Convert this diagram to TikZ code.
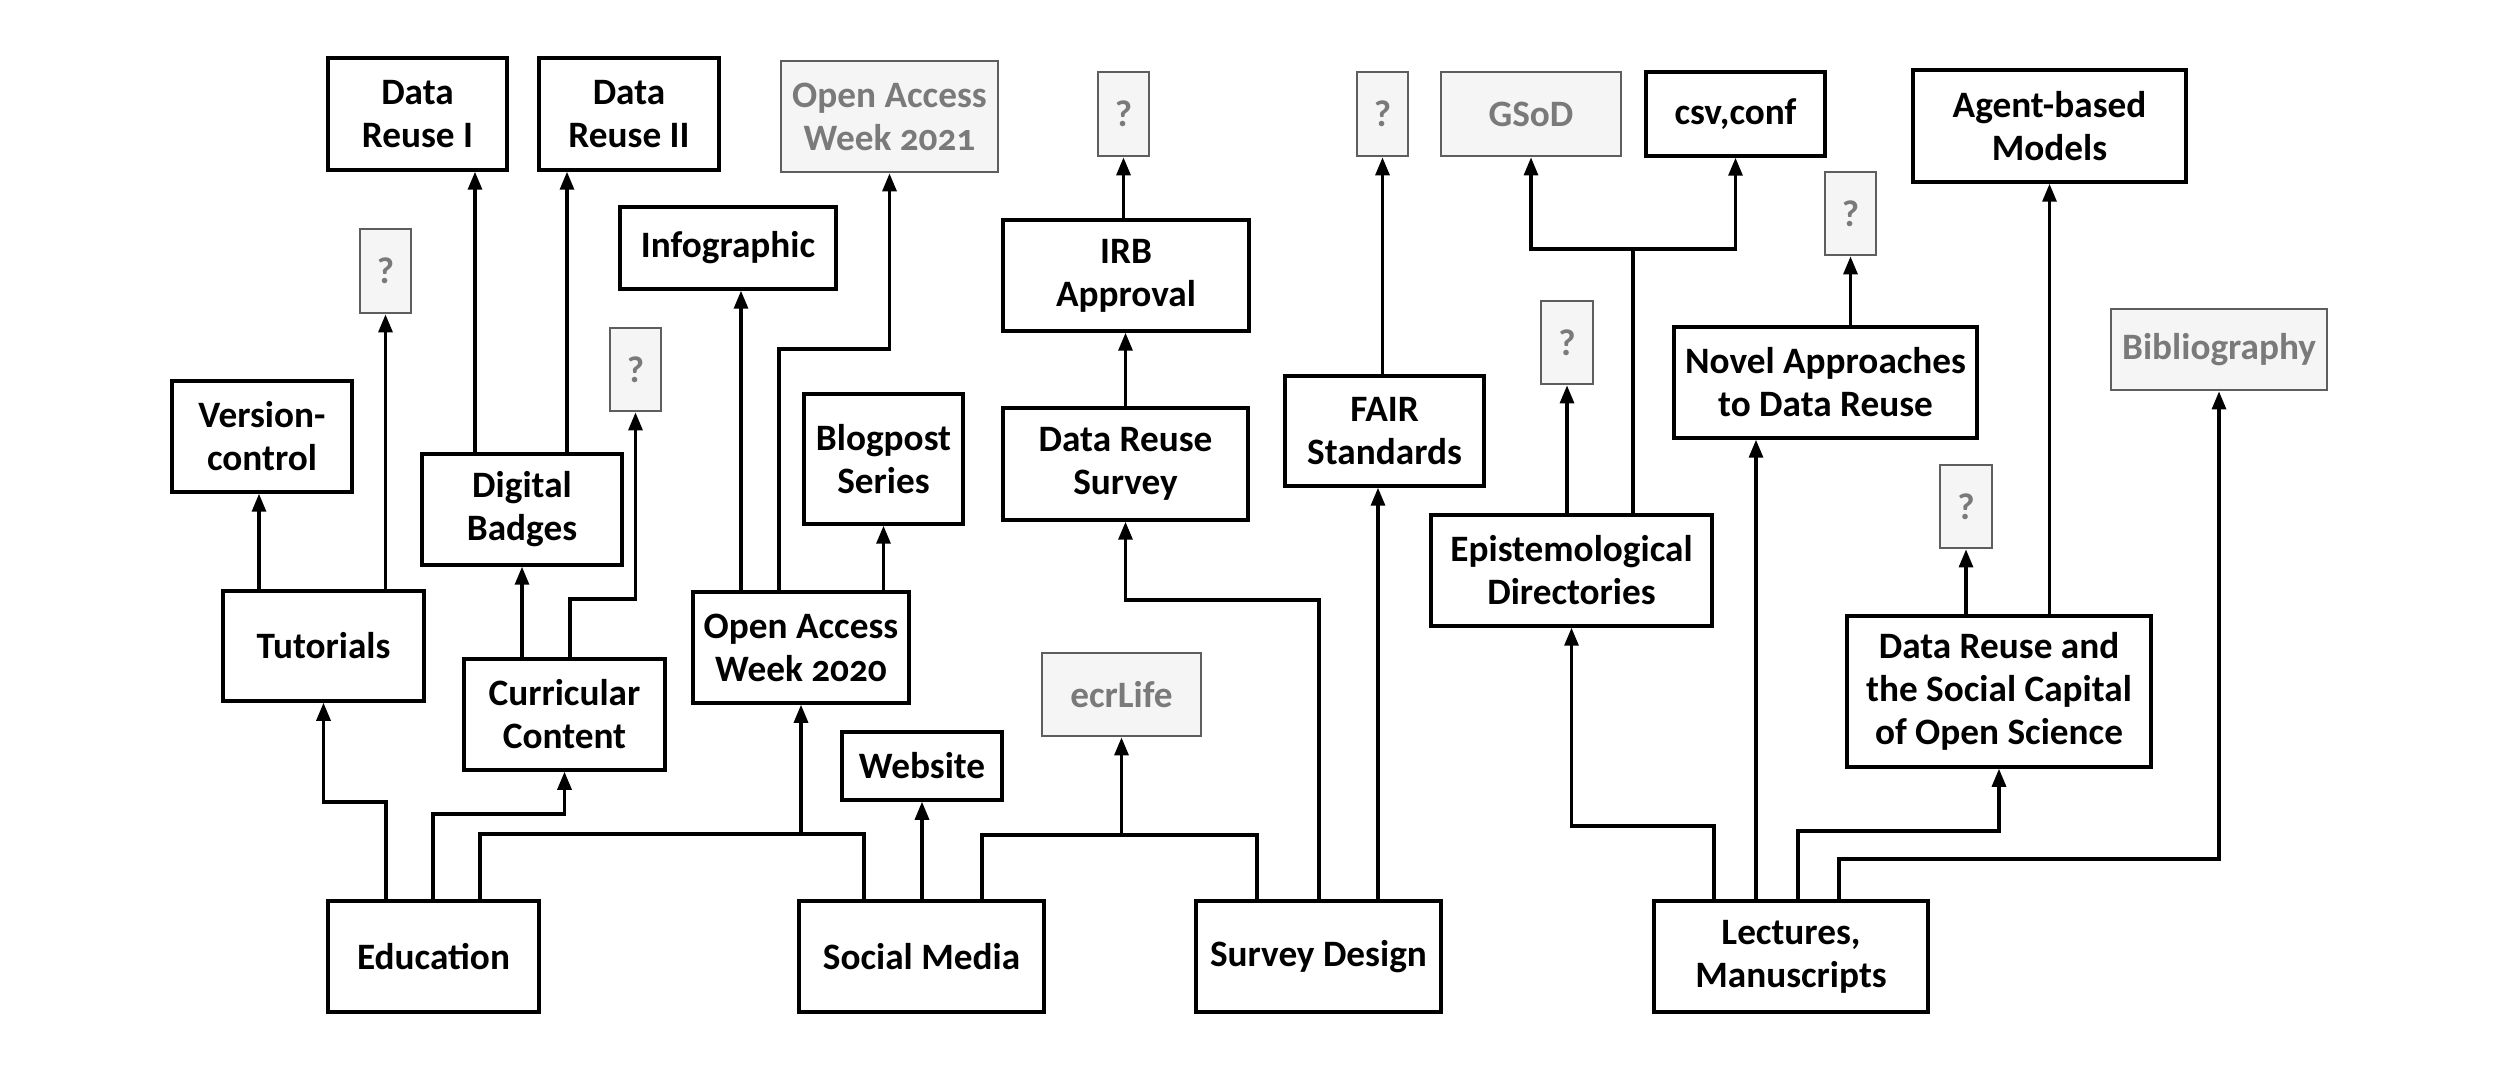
\documentclass[tikz,border=0pt]{standalone}
\usepackage{fontspec}
\setmainfont{Carlito}[Numbers=OldStyle]
\usetikzlibrary{arrows.meta}
\definecolor{gfill}{HTML}{F5F5F5}
\definecolor{gline}{HTML}{5E5E5E}
\definecolor{gtext}{HTML}{7A7A7A}
\begin{document}
\begin{tikzpicture}[x=0.1mm,y=-0.1mm,
  box/.style={draw, line width=1.0pt, fill=white, inner sep=0pt, align=center,
    font=\bfseries\fontsize{10.6}{12.2}\selectfont},
  gbox/.style={box, draw=gline, fill=gfill, text=gtext, line width=0.8pt},
  arr/.style={line width=0.9pt, -{Triangle[length=1.8mm,width=1.4mm]}},
  ln/.style={line width=0.9pt}]
\useasboundingbox (0,0) rectangle (2500,1071);

% top row
\node[box, minimum width=17.9mm, minimum height=11.2mm] (dr1) at (417.5,114) {Data\\Reuse I};
\node[box, minimum width=18.0mm, minimum height=11.2mm] (dr2) at (629,114) {Data\\Reuse II};
\node[gbox, minimum width=21.7mm, minimum height=11.1mm] (oaw21) at (889.5,116.5) {Open Access\\Week 2021};
\node[gbox, minimum width=5.1mm, minimum height=8.4mm] (q1) at (1123.5,114) {?};
\node[gbox, minimum width=5.1mm, minimum height=8.4mm] (q2) at (1382.5,114) {?};
\node[gbox, minimum width=18.0mm, minimum height=8.4mm] (gsod) at (1531,114) {GSoD};
\node[box, minimum width=17.9mm, minimum height=8.4mm] (csv) at (1735.5,114) {csv,conf};
\node[box, minimum width=27.3mm, minimum height=11.2mm] (agent) at (2049.5,126) {Agent-based\\Models};

% second tier
\node[gbox, minimum width=5.1mm, minimum height=8.4mm] (q3) at (385.5,271) {?};
\node[box, minimum width=21.6mm, minimum height=8.2mm] (info) at (728,248) {Infographic};
\node[box, minimum width=24.6mm, minimum height=11.1mm] (irb) at (1126,275.5) {IRB\\Approval};
\node[gbox, minimum width=5.1mm, minimum height=8.3mm] (q4) at (635.5,369.5) {?};
\node[gbox, minimum width=5.2mm, minimum height=8.3mm] (q5) at (1567,342.5) {?};
\node[gbox, minimum width=5.1mm, minimum height=8.3mm] (q6) at (1850.5,213.5) {?};
\node[box, minimum width=30.3mm, minimum height=11.1mm] (nov) at (1825.5,382.5) {Novel Approaches\\to Data Reuse};
\node[gbox, minimum width=21.6mm, minimum height=8.1mm] (bib) at (2219,349.5) {Bibliography};

% third tier
\node[box, minimum width=18.0mm, minimum height=11.1mm] (ver) at (262,436.5) {Version-\\control};
\node[box, minimum width=20.0mm, minimum height=11.1mm] (bad) at (522,509.5) {Digital\\Badges};
\node[box, minimum width=15.9mm, minimum height=13.0mm] (blog) at (883.5,459) {Blogpost\\Series};
\node[box, minimum width=24.5mm, minimum height=11.2mm] (drsv) at (1125.5,464) {Data Reuse\\Survey};
\node[box, minimum width=19.9mm, minimum height=11.0mm] (fair) at (1384.5,431) {FAIR\\Standards};
\node[box, minimum width=28.1mm, minimum height=11.1mm] (epi) at (1571.5,570.5) {Epistemological\\Directories};
\node[gbox, minimum width=5.2mm, minimum height=8.3mm] (q7) at (1966,506.5) {?};

% fourth tier
\node[box, minimum width=20.1mm, minimum height=11.0mm] (tut) at (323.5,646) {Tutorials};
\node[box, minimum width=20.1mm, minimum height=11.1mm] (cur) at (564.5,714.5) {Curricular\\Content};
\node[box, minimum width=21.6mm, minimum height=11.1mm] (oaw20) at (801,647.5) {Open Access\\Week 2020};
\node[box, minimum width=30.4mm, minimum height=15.1mm] (drs) at (1999,691.5) {Data Reuse and\\the Social Capital\\of Open Science};
\node[gbox, minimum width=15.9mm, minimum height=8.3mm] (ecr) at (1121.5,694.5) {ecrLife};
\node[box, minimum width=16.0mm, minimum height=6.8mm] (web) at (922,766) {Website};

% roots
\node[box, minimum width=21.1mm, minimum height=11.1mm] (edu) at (433.5,956.5) {Education};
\node[box, minimum width=24.5mm, minimum height=11.1mm] (sm) at (921.5,956.5) {Social Media};
\node[box, minimum width=24.5mm, minimum height=11.1mm] (sd) at (1318.5,956.5) {Survey Design};
\node[box, minimum width=27.4mm, minimum height=11.1mm] (lec) at (1791,956.5) {Lectures,\\Manuscripts};

% junctions
\coordinate (jedu) at (480,834);
\coordinate (jsm) at (982,835);
\coordinate (jepi) at (1633,249);

% Education
\draw[arr] (386,0 |- edu.north) -- (386,802) -| (tut.south);
\draw[arr] (433,0 |- edu.north) -- (433,814) -| (cur.south);
\draw[ln] (jedu |- edu.north) -- (jedu) -| (864,0 |- sm.north);
\draw[arr] (oaw20.south |- jedu) -- (oaw20.south);

% Social Media
\draw[arr] (sm.north -| web.south) -- (web.south);
\draw[ln] (jsm |- sm.north) -- (jsm) -| (1257,0 |- sd.north);
\draw[arr] (ecr.south |- jsm) -- (ecr.south);

% Survey Design
\draw[arr] (1319,0 |- sd.north) -- (1319,600) -| (drsv.south);
\draw[arr] (1378,0 |- sd.north) -- (1378,0 |- fair.south);
\draw[arr] (drsv.north) -- (drsv.north |- irb.south);
\draw[arr] (irb.north -| q1.south) -- (q1.south);
\draw[arr] (fair.north -| q2.south) -- (q2.south);

% Tutorials, Curricular, Badges
\draw[arr] (259,0 |- tut.north) -- (259,0 |- ver.south);
\draw[arr] (tut.north -| q3.south) -- (q3.south);
\draw[arr] (475,0 |- bad.north) -- (475,0 |- dr1.south);
\draw[arr] (567,0 |- bad.north) -- (567,0 |- dr2.south);
\draw[arr] (cur.north -| bad.south) -- (bad.south);
\draw[arr] (570,0 |- cur.north) -- (570,599) -| (q4.south);

% Open Access Week 2020
\draw[arr] (741,0 |- oaw20.north) -- (741,0 |- info.south);
\draw[arr] (779,0 |- oaw20.north) -- (779,349) -| (oaw21.south);
\draw[arr] (oaw20.north -| blog.south) -- (blog.south);

% Lectures
\draw[arr] (1714,0 |- lec.north) -- (1714,826) -| (epi.south);
\draw[arr] (1756,0 |- lec.north) -- (1756,0 |- nov.south);
\draw[arr] (1798,0 |- lec.north) -- (1798,831) -| (drs.south);
\draw[arr] (1839,0 |- lec.north) -- (1839,859) -| (bib.south);

% Epistemological
\draw[arr] (epi.north -| q5.south) -- (q5.south);
\draw[ln] (jepi |- epi.north) -- (jepi);
\draw[arr] (jepi) -| (gsod.south);
\draw[arr] (jepi) -| (csv.south);

% Novel, Data Reuse and Social Capital
\draw[arr] (nov.north -| q6.south) -- (q6.south);
\draw[arr] (drs.north -| q7.south) -- (q7.south);
\draw[arr] (drs.north -| agent.south) -- (agent.south);
\end{tikzpicture}
\end{document}
